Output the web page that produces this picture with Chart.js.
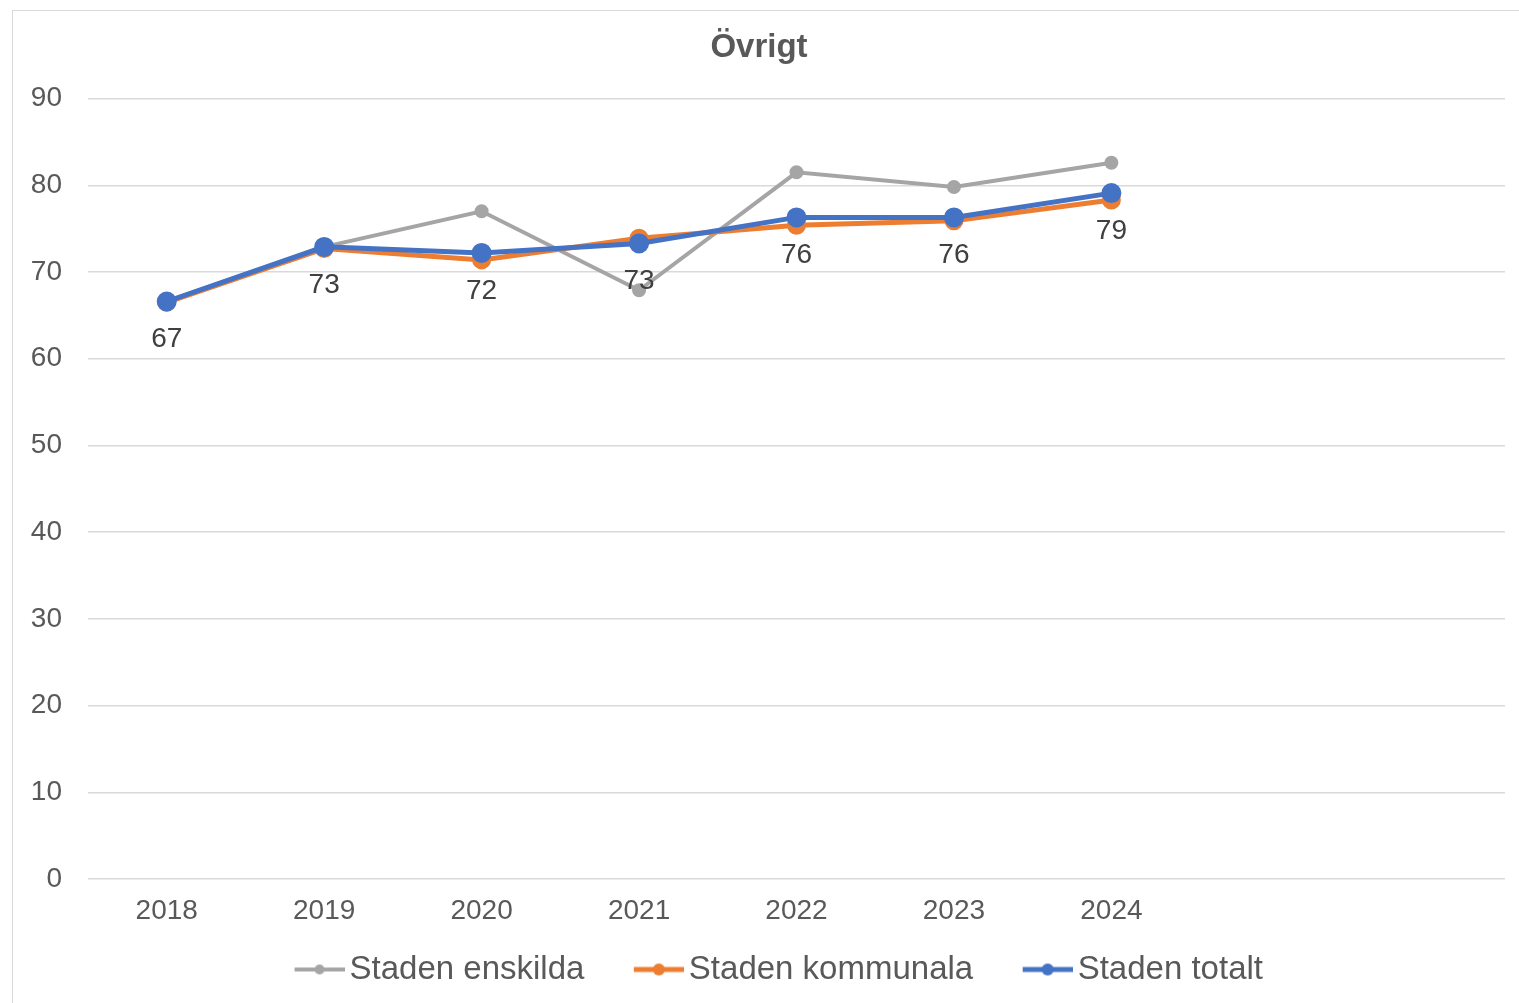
<!DOCTYPE html>
<html>
<head>
<meta charset="utf-8">
<script src="https://cdn.jsdelivr.net/npm/chart.js@4"></script>
<style>
  body { margin: 0; background: #fff; }
  #box {
    position: absolute; left: 12px; top: 10px;
    width: 1507px; height: 993px;
    border-left: 1px solid #d9d9d9; border-top: 1px solid #d9d9d9;
  }
</style>
</head>
<body>
<div id="box"><canvas id="Ovrigt" width="1507" height="993"></canvas></div>
<script>
// data
var years = ['2018', '2019', '2020', '2021', '2022', '2023', '2024', '', ''];
var enskilda = [66.6, 72.9, 77.0, 67.9, 81.5, 79.8, 82.6, null, null];
var kommunala = [66.5, 72.7, 71.4, 73.9, 75.4, 75.9, 78.3, null, null];
var totalt = [66.6, 72.9, 72.2, 73.3, 76.3, 76.3, 79.1, null, null];
var totaltLabels = ['67', '73', '72', '73', '76', '76', '79'];

var FONT = "'Liberation Sans', Arial, sans-serif";
Chart.defaults.font.family = FONT;
Chart.defaults.color = '#595959';

// line+dot images for the legend (transparent space on the left gives the gap between items)
function legendIcon(color, lw, r) {
  var c = document.createElement('canvas');
  c.width = 101; c.height = 16;
  var g = c.getContext('2d');
  g.strokeStyle = color; g.lineWidth = lw;
  g.beginPath(); g.moveTo(51, 8); g.lineTo(101, 8); g.stroke();
  g.fillStyle = color;
  g.beginPath(); g.arc(76, 8, r, 0, Math.PI * 2); g.fill();
  return c;
}
var icons = [legendIcon('#a5a5a5', 4, 5), legendIcon('#ed7d31', 5, 6), legendIcon('#4472c4', 5, 6)];

// value labels under the blue line
var valueLabels = {
  id: 'valueLabels',
  afterDatasetsDraw: function (chart) {
    var meta = chart.getDatasetMeta(2);
    var ctx = chart.ctx;
    ctx.save();
    ctx.font = '28px ' + FONT;
    ctx.fillStyle = '#404040';
    ctx.textAlign = 'center';
    ctx.textBaseline = 'middle';
    meta.data.forEach(function (pt, i) {
      if (totaltLabels[i] === undefined) return;
      ctx.fillText(totaltLabels[i], pt.x, pt.y + 38);
    });
    ctx.restore();
  }
};

var ctx = document.getElementById('Ovrigt').getContext('2d');
var chart = new Chart(ctx, {
  type: 'line',
  data: {
    labels: years,
    datasets: [{
      label: 'Staden enskilda',
      data: enskilda,
      borderColor: '#a5a5a5',
      backgroundColor: '#a5a5a5',
      borderWidth: 4,
      pointRadius: 5,
      order: 3
    }, {
      label: 'Staden kommunala',
      data: kommunala,
      borderColor: '#ed7d31',
      backgroundColor: '#ed7d31',
      borderWidth: 5,
      pointRadius: 7,
      order: 2
    }, {
      label: 'Staden totalt',
      data: totalt,
      borderColor: '#4472c4',
      backgroundColor: '#4472c4',
      borderWidth: 5,
      pointRadius: 7.5,
      order: 1
    }]
  },
  options: {
    responsive: false,
    animation: false,
    datasets: { line: { tension: 0 } },
    layout: { padding: { left: 0, right: 15, top: 0, bottom: 8 } },
    plugins: {
      title: {
        display: true,
        text: 'Övrigt',
        color: '#595959',
        font: { size: 33, weight: 'bold' },
        padding: { top: 17, bottom: 31 }
      },
      legend: {
        position: 'bottom',
        labels: {
          usePointStyle: true,
          pointStyleWidth: 78,
          color: '#595959',
          font: { size: 33 },
          padding: 10,
          sort: function (a, b) { return a.datasetIndex - b.datasetIndex; },
          generateLabels: function (chart) {
            var items = Chart.defaults.plugins.legend.labels.generateLabels(chart);
            items.forEach(function (it) { it.pointStyle = icons[it.datasetIndex]; });
            return items;
          }
        }
      },
      tooltip: { enabled: false }
    },
    scales: {
      x: {
        offset: true,
        grid: { display: false, drawTicks: false },
        border: { display: false },
        ticks: { font: { size: 28 }, color: '#595959', padding: 15, maxRotation: 0, autoSkip: false },
        afterFit: function (scale) { scale.height = 64; }
      },
      y: {
        min: 0,
        max: 90,
        grid: { color: '#d9d9d9', lineWidth: 1.5, drawTicks: false },
        border: { display: false },
        ticks: { stepSize: 10, font: { size: 28 }, color: '#595959', padding: 26 },
        afterFit: function (scale) { scale.width = 75; }
      }
    }
  },
  plugins: [valueLabels]
});
</script>
</body>
</html>
